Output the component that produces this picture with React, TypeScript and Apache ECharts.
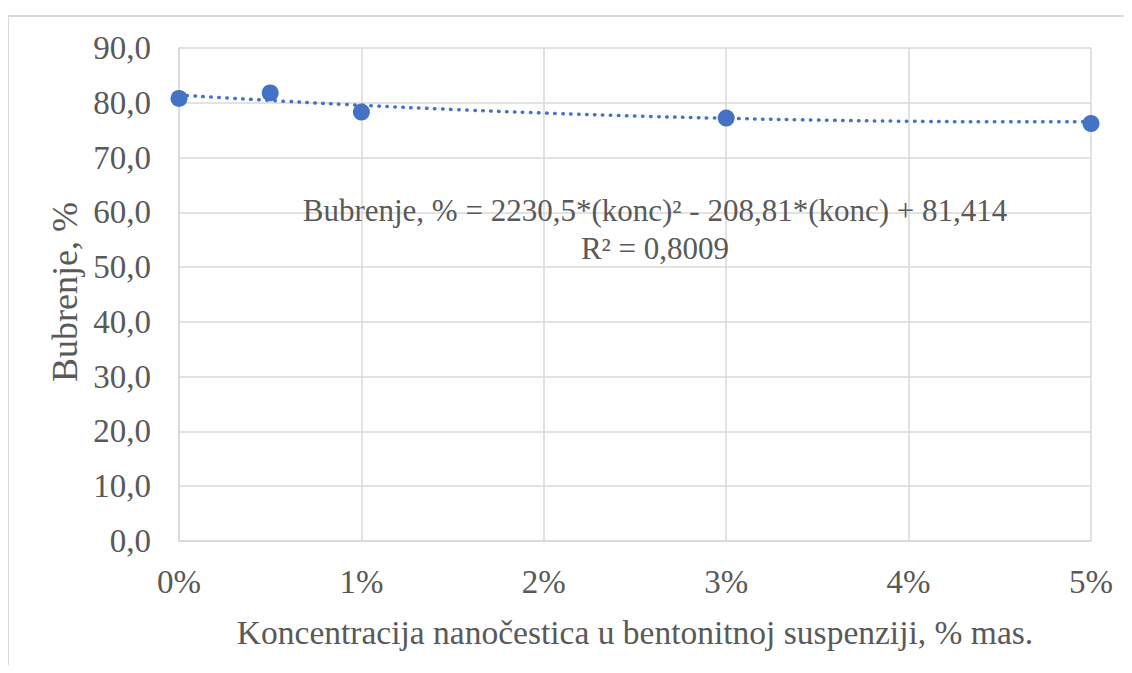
import React, { useEffect, useRef } from "react";
import * as echarts from "echarts";

const concentrations = [0, 0.005, 0.01, 0.03, 0.05];
const swelling = [80.8, 81.8, 78.3, 77.2, 76.2];

const trendX = [0, 0.005, 0.01, 0.015, 0.02, 0.025, 0.03, 0.035, 0.04, 0.045, 0.05];
const trendY = [81.41, 80.43, 79.55, 78.78, 78.13, 77.59, 77.16, 76.84, 76.63, 76.53, 76.55];

const xTicks = [0, 0.01, 0.02, 0.03, 0.04, 0.05];
const yTickMax = 90;
const yTickStep = 10;

const equationLine1 = "Bubrenje, % = 2230,5*(konc)\u00B2 - 208,81*(konc) + 81,414";
const equationLine2 = "R\u00B2 = 0,8009";
const yTitle = "Bubrenje, %";
const xTitle = "Koncentracija nanočestica u bentonitnoj suspenziji, % mas.";

const FONT = "Liberation Serif";
const TEXT = "#595959";
const GRID = "#d9d9d9";
const BLUE = "#4472C4";

export default function App() {
  const ref = useRef<HTMLDivElement>(null);
  useEffect(() => {
    if (!ref.current) return;
    const chart = echarts.init(ref.current, undefined, { renderer: "svg" });
    const txt = (size: number) => ({
      fill: TEXT,
      fontFamily: FONT,
      fontSize: size,
      align: "center",
      verticalAlign: "middle",
    });
    chart.setOption({
      animation: false,
      backgroundColor: "#ffffff",
      grid: { left: 171, top: 40, width: 912, height: 493, containLabel: false },
      xAxis: {
        type: "value",
        min: xTicks[0],
        max: xTicks[xTicks.length - 1],
        interval: 0.01,
        axisLine: { show: true, lineStyle: { color: GRID, width: 1.5 } },
        axisTick: { show: false },
        splitLine: { show: true, lineStyle: { color: GRID, width: 1.5 } },
        axisLabel: {
          color: TEXT,
          fontFamily: FONT,
          fontSize: 33,
          margin: 24,
          formatter: (v: number) => Math.round(v * 100) + "%",
        },
      },
      yAxis: {
        type: "value",
        min: 0,
        max: yTickMax,
        interval: yTickStep,
        axisLine: { show: true, lineStyle: { color: GRID, width: 1.5 } },
        axisTick: { show: false },
        splitLine: { show: true, lineStyle: { color: GRID, width: 1.5 } },
        axisLabel: {
          color: TEXT,
          fontFamily: FONT,
          fontSize: 33,
          margin: 28,
          formatter: (v: number) => v.toFixed(1).replace(".", ","),
        },
      },
      series: [
        {
          type: "line",
          data: trendX.map((x, i) => [x, trendY[i]]),
          smooth: true,
          showSymbol: false,
          symbol: "none",
          lineStyle: { color: BLUE, width: 3.5, type: [0.5, 7.5], cap: "round" },
          silent: true,
          z: 2,
        },
        {
          type: "scatter",
          data: concentrations.map((x, i) => [x, swelling[i]]),
          symbol: "circle",
          symbolSize: 17,
          itemStyle: { color: BLUE, opacity: 1 },
          z: 3,
        },
      ],
      graphic: [
        {
          type: "rect",
          shape: { x: 0, y: 8, width: 1300, height: 800 },
          style: { fill: "none", stroke: GRID, lineWidth: 2 },
          silent: true,
          z: -10,
        },
        { type: "text", x: 647, y: 202, style: { text: equationLine1, ...txt(31) }, z: 10 },
        { type: "text", x: 647, y: 240, style: { text: equationLine2, ...txt(31) }, z: 10 },
        {
          type: "text",
          x: 57,
          y: 284,
          rotation: Math.PI / 2,
          style: { text: yTitle, ...txt(36) },
        },
        { type: "text", x: 627, y: 624, style: { text: xTitle, ...txt(33.5) } },
      ],
    });
    return () => chart.dispose();
  }, []);
  return <div ref={ref} style={{ width: 1116, height: 657 }} />;
}
